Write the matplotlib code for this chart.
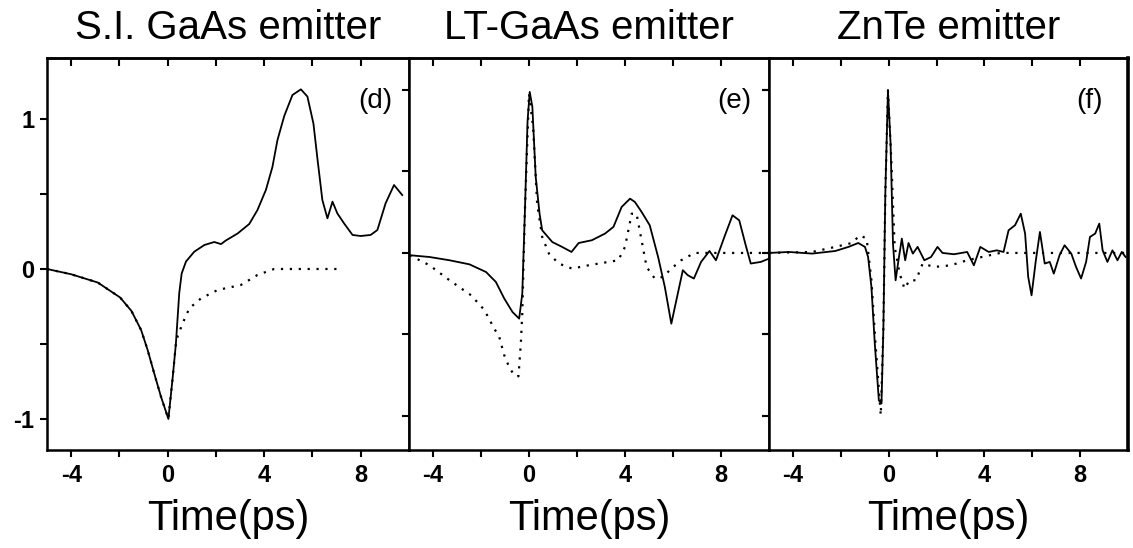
import matplotlib
matplotlib.use("Agg")
import matplotlib.pyplot as plt
from matplotlib.ticker import FixedLocator, NullFormatter

plt.rcParams["font.family"] = ["Liberation Sans", "DejaVu Sans"]
plt.rcParams["axes.unicode_minus"] = False

# ---- data -----------------------------------------------------------------

titles = ["S.I. GaAs emitter", "LT-GaAs emitter", "ZnTe emitter"]
panel_tags = ["(d)", "(e)", "(f)"]

# (d) S.I. GaAs emitter: measured (solid) and reference (dotted)
t_d = [-5.0, -4.0, -2.9, -1.97, -1.5, -1.1, -0.83, -0.55, -0.28, 0.03, 0.21, 0.34,
       0.48, 0.58, 0.76, 1.1, 1.52, 1.93, 2.21, 2.41, 2.9, 3.38, 3.72, 4.07, 4.34,
       4.55, 4.83, 5.17, 5.52, 5.79, 6.04, 6.21, 6.41, 6.62, 6.83, 7.03, 7.31, 7.66,
       8.0, 8.41, 8.69, 9.03, 9.38, 9.72]
v_d = [0.0, -0.035, -0.09, -0.19, -0.28, -0.407, -0.54, -0.7, -0.85, -1.0, -0.72, -0.5,
       -0.16, -0.03, 0.05, 0.115, 0.16, 0.18, 0.166, 0.19, 0.237, 0.3, 0.393, 0.527, 0.68,
       0.86, 1.02, 1.16, 1.198, 1.15, 0.97, 0.73, 0.46, 0.338, 0.449, 0.371, 0.304, 0.227,
       0.22, 0.227, 0.26, 0.438, 0.56, 0.493]
t_d_ref = [-5.0, -4.0, -2.9, -1.97, -1.5, -1.1, -0.83, -0.55, -0.28, 0.03, 0.21, 0.34,
           0.41, 0.62, 0.9, 1.38, 2.07, 3.03, 3.72, 4.41, 5.5, 7.1]
v_d_ref = [0.0, -0.035, -0.09, -0.19, -0.28, -0.407, -0.54, -0.7, -0.85, -1.0, -0.72, -0.5,
           -0.45, -0.362, -0.262, -0.196, -0.14, -0.107, -0.04, 0.0, 0.0, 0.0]

# (e) LT-GaAs emitter
t_e = [-4.97, -4.14, -3.31, -2.48, -1.79, -1.38, -1.03, -0.69, -0.41, -0.28, -0.17,
       -0.06, 0.03, 0.14, 0.28, 0.44, 0.55, 0.97, 1.38, 1.77, 2.07, 2.62, 3.17, 3.52,
       3.86, 4.21, 4.41, 4.69, 5.03, 5.38, 5.66, 5.93, 6.14, 6.41, 6.62, 6.87, 7.17,
       7.52, 7.79, 8.14, 8.48, 8.76, 9.03, 9.24, 9.66, 10.0]
v_e = [-0.014, -0.025, -0.045, -0.07, -0.117, -0.178, -0.28, -0.362, -0.403, -0.25, 0.26,
       0.81, 0.988, 0.896, 0.466, 0.241, 0.139, 0.067, 0.037, 0.006, 0.061, 0.078, 0.119,
       0.16, 0.282, 0.333, 0.313, 0.252, 0.17, -0.025, -0.209, -0.434, -0.29, -0.106,
       -0.137, -0.157, -0.055, 0.012, -0.045, 0.098, 0.231, 0.2, 0.047, -0.065, -0.055,
       -0.035]
t_e_ref = [-4.97, -4.14, -3.31, -2.41, -1.86, -1.45, -1.24, -1.03, -0.83, -0.62, -0.44,
           -0.34, -0.28, -0.17, 0.0, 0.17, 0.34, 0.55, 0.83, 1.24, 1.79, 2.48, 3.31, 3.72,
           4.0, 4.28, 4.48, 4.69, 4.9, 5.24, 5.59, 5.93, 6.34, 6.9, 10.0]
v_e_ref = [-0.014, -0.076, -0.168, -0.26, -0.35, -0.464, -0.515, -0.628, -0.699, -0.75,
           -0.757, -0.556, -0.37, 0.26, 0.977, 0.773, 0.3, 0.098, -0.004, -0.065, -0.096,
           -0.076, -0.055, -0.045, 0.037, 0.241, 0.241, 0.078, -0.086, -0.157, -0.147,
           -0.096, -0.045, 0.0, 0.0]

# (f) ZnTe emitter
t_f = [-4.99, -4.17, -3.2, -2.23, -1.68, -1.27, -0.99, -0.86, -0.72, -0.58, -0.41,
       -0.3, -0.22, -0.14, -0.03, 0.08, 0.18, 0.29, 0.41, 0.55, 0.69, 0.83, 1.01, 1.21,
       1.49, 1.77, 2.04, 2.25, 2.73, 3.28, 3.56, 3.83, 4.18, 4.52, 4.8, 5.01, 5.28,
       5.52, 5.7, 5.83, 5.97, 6.15, 6.32, 6.52, 6.73, 6.9, 7.14, 7.35, 7.63, 7.83,
       8.04, 8.25, 8.41, 8.63, 8.8, 8.94, 9.14, 9.35, 9.56, 9.74, 9.9]
v_f = [0.0, 0.006, -0.004, 0.012, 0.037, 0.061, 0.037, -0.025, -0.209, -0.556, -0.904,
       -0.924, -0.454, 0.364, 0.998, 0.67, 0.057, -0.168, -0.045, 0.088, -0.045, 0.061,
       -0.004, 0.037, -0.045, -0.025, 0.037, 0.0, -0.008, 0.006, -0.076, 0.037, 0.006,
       0.016, 0.006, 0.139, 0.17, 0.241, 0.119, -0.147, -0.26, -0.045, 0.129, -0.065,
       -0.055, -0.127, -0.014, 0.047, -0.004, -0.086, -0.157, -0.055, 0.098, 0.119, 0.18,
       0.016, -0.055, 0.016, -0.045, 0.006, -0.025]
t_f_ref = [-4.99, -3.2, -2.23, -1.54, -1.2, -0.92, -0.72, -0.55, -0.33, -0.22, -0.14,
           -0.03, 0.11, 0.25, 0.46, 0.66, 0.87, 1.14, 1.42, 1.9, 2.59, 3.28, 4.66, 9.9]
v_f_ref = [0.0, 0.006, 0.037, 0.061, 0.108, 0.088, -0.168, -0.556, -0.996, -0.454, 0.364,
           0.998, 0.57, 0.037, -0.127, -0.219, -0.168, -0.168, -0.065, -0.086, -0.076,
           -0.045, 0.0, 0.0]

solid = [(t_d, v_d), (t_e, v_e), (t_f, v_f)]
dotted = [(t_d_ref, v_d_ref), (t_e_ref, v_e_ref), (t_f_ref, v_f_ref)]
ylims = [(-1.207, 1.407), (-1.209, 1.196), (-1.209, 1.196)]
tag_x = [0.953, 0.95, 0.93]

# ---- figure -----------------------------------------------------------------

W, H = 1133, 548
fig = plt.figure(figsize=(W / 100, H / 100), dpi=100)
edges = [47, 409, 769, 1128]
top_px, bot_px = 58, 450

for i in range(3):
    x0, x1 = edges[i], edges[i + 1]
    ax = fig.add_axes([x0 / W, 1 - bot_px / H, (x1 - x0) / W, (bot_px - top_px) / H])
    t, v = solid[i]
    ax.plot(t, v, color="black", lw=1.3, solid_joinstyle="round")
    t, v = dotted[i]
    ax.plot(t, v, color="black", lw=1.6, linestyle=(0, (1, 3)))

    ax.set_xlim(-5, 10)
    ax.set_ylim(*ylims[i])
    for s in ax.spines.values():
        s.set_linewidth(1.8)
    if i == 2:
        ax.spines["right"].set_linewidth(2.6)

    ax.xaxis.set_major_locator(FixedLocator([-4, 0, 4, 8]))
    ax.xaxis.set_minor_locator(FixedLocator([-2, 2, 6]))
    ax.yaxis.set_major_locator(FixedLocator([-1, 0, 1]))
    ax.yaxis.set_minor_locator(FixedLocator([-0.5, 0.5]))
    ax.tick_params(axis="both", which="both", direction="out", length=5, width=1.5)
    ax.tick_params(axis="x", labelsize=17, pad=5)
    ax.tick_params(axis="y", labelsize=17, pad=4)
    if i > 0:
        ax.yaxis.set_major_formatter(NullFormatter())
    for lab in ax.get_xticklabels() + ax.get_yticklabels():
        lab.set_fontweight("bold")

    # inward ticks along the top edge
    top = ax.secondary_xaxis("top")
    top.xaxis.set_major_locator(FixedLocator([-4, -2, 0, 2, 4, 6, 8]))
    top.tick_params(direction="in", length=6, width=1.5, labeltop=False)
    top.spines["top"].set_linewidth(1.8)
    if i == 1:
        right = ax.secondary_yaxis("right")
        right.yaxis.set_major_locator(FixedLocator([-1, -0.5, 0, 0.5, 1]))
        right.tick_params(direction="in", length=5, width=1.5, labelright=False)

    ax.set_title(titles[i], fontsize=29, pad=14)
    ax.set_xlabel("Time(ps)", fontsize=30, labelpad=9)
    ax.text(tag_x[i], 0.89, panel_tags[i], transform=ax.transAxes, ha="right",
            va="center", fontsize=20)

fig.savefig("out.png", dpi=100)
